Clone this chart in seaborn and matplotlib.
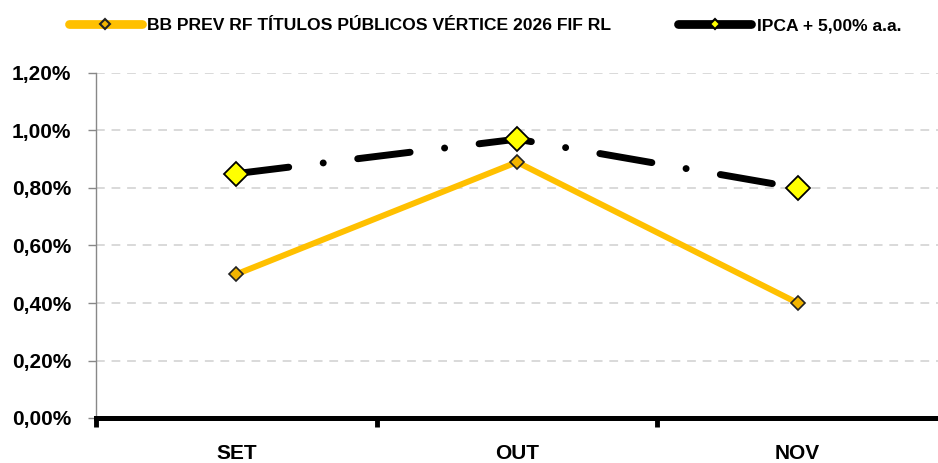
import matplotlib
matplotlib.use('Agg')
import numpy as np
import pandas as pd
import seaborn as sns
from matplotlib import pyplot as plt
from matplotlib.ticker import FuncFormatter

months = ['SET', 'OUT', 'NOV']
fund_name = 'BB PREV RF TÍTULOS PÚBLICOS VÉRTICE 2026 FIF RL'
bench_name = 'IPCA + 5,00% a.a.'
fund_values = [0.50, 0.89, 0.40]
bench_values = [0.85, 0.97, 0.80]
y_ticks = [0.0, 0.2, 0.4, 0.6, 0.8, 1.0, 1.2]

sns.set_style('white')
plt.rcParams['font.family'] = ['Liberation Sans', 'DejaVu Sans']
plt.rcParams['font.weight'] = 'bold'
plt.rcParams['text.color'] = 'black'
plt.rcParams['xtick.color'] = 'black'
plt.rcParams['ytick.color'] = 'black'

df = pd.DataFrame({'mes': months, 'fundo': fund_values, 'bench': bench_values})

fig = plt.figure(figsize=(9.38, 4.63), dpi=100)
ax = fig.add_axes([96 / 938, 1 - 418 / 463, 1 - 96 / 938, (418 - 73) / 463])

# grid first so lines sit on top
for y in y_ticks[1:]:
    ax.axhline(y, color='#d9d9d9', lw=1.4, linestyle=(0, (4.5, 3.5)), zorder=0)

sns.lineplot(df, x='mes', y='bench', color='black', lw=5, sort=False, ax=ax,
             marker='D', markersize=12, markerfacecolor='#ffff00',
             markeredgecolor='black', markeredgewidth=1.3, label=bench_name)
line_b = ax.lines[-1]
line_b.set_linestyle((0, (7.6, 5.0, 0.01, 5.0)))
line_b.set_dash_capstyle('round')

sns.lineplot(df, x='mes', y='fundo', color='#ffc000', lw=4.3, sort=False, ax=ax,
             marker='D', markersize=7, markerfacecolor='#f2b400',
             markeredgecolor='#222222', markeredgewidth=1.2, label=fund_name)

ax.set_xlim(-0.5, 2.5)
ax.set_ylim(0, 1.2)
ax.set_yticks(y_ticks)
ax.yaxis.set_major_formatter(FuncFormatter(lambda v, p: f'{v:.2f}%'.replace('.', ',')))
ax.tick_params(axis='y', left=True, length=6, width=1, color='#888888', labelcolor='black',
               pad=12, labelsize=15)

ax.set_xticks([-0.5, 0.5, 1.5])
ax.set_xticklabels([])
ax.set_xticks(range(len(months)), months, minor=True)
ax.tick_params(axis='x', which='major', bottom=True, length=6.5, width=3.5, color='black',
               direction='out')
ax.tick_params(axis='x', which='minor', bottom=True, length=0, pad=19, labelsize=15,
               labelcolor='black')
ax.set_xlabel('')
ax.set_ylabel('')

for side in ['top', 'right']:
    ax.spines[side].set_visible(False)
ax.spines['left'].set_color('#888888')
ax.spines['left'].set_linewidth(1)
ax.spines['bottom'].set_color('black')
ax.spines['bottom'].set_linewidth(3.6)
ax.spines['bottom'].set_zorder(5)

for lbl in ax.get_yticklabels() + ax.get_xticklabels(minor=True):
    lbl.set_fontweight('bold')

handles, labels = ax.get_legend_handles_labels()
ax.get_legend().remove()
order = [1, 0]
leg = fig.legend([handles[i] for i in order], [labels[i] for i in order],
                 loc='center', bbox_to_anchor=(0.517, 0.945), ncol=2, frameon=False,
                 handlelength=4.2, columnspacing=3.8, handletextpad=0.3,
                 prop={'weight': 'bold', 'size': 12.6})
for h in leg.legend_handles:
    h.set_linestyle('-')
    h.set_solid_capstyle('round')
    h.set_linewidth(6.3)
    h.set_markersize(5.5)
    h.set_markeredgewidth(1.5)

fig.savefig('out.png', dpi=100)
